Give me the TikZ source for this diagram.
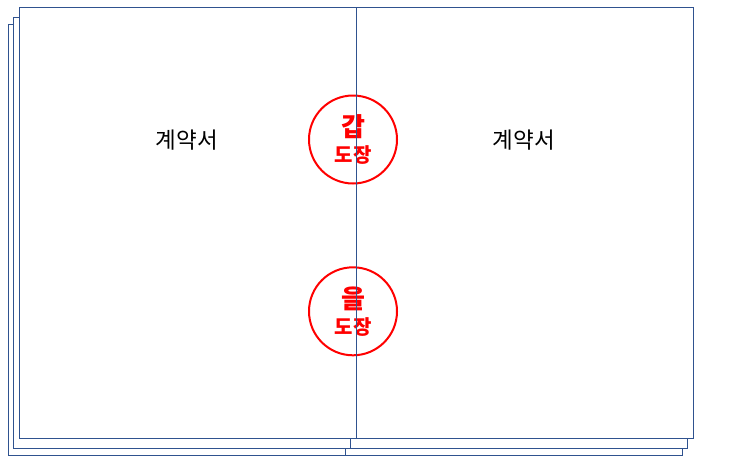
\documentclass[tikz,border=0pt]{standalone}
\usepackage{fontspec}
\usepackage{xcolor}
\usepackage{tikz}
\usetikzlibrary{positioning}
\newfontfamily\kr{Noto Sans CJK KR}
\definecolor{pageblue}{HTML}{2F528F}
\definecolor{sealred}{HTML}{FF0000}

\newcommand{\sealName}[1]{{\fontsize{26}{26}\selectfont #1}}

\tikzset{
  page/.style={draw=pageblue, line width=1pt, fill=white},
  fold/.style={draw=pageblue, line width=1pt},
  doctitle/.style={font=\kr\fontsize{22.5}{26}\selectfont, text=black},
  seal/.style={circle, draw=sealred, line width=2pt, minimum size=88pt, inner sep=0pt,
    align=center, text=sealred, font=\kr\bfseries\fontsize{20}{26}\selectfont}
}

\begin{document}
\begin{tikzpicture}[x=1pt,y=-1pt]
  % Define the dimensions of one page
  \def\pageWidth{674}
  \def\pageHeight{431}

  \useasboundingbox (0,0) rectangle (753,464);

  % the pages lying underneath
  \foreach \px/\py in {8.3/24.3, 13.3/17} {
    \draw[page] (\px,\py) rectangle ++(\pageWidth,\pageHeight);
    \draw[fold] (\px+\pageWidth/2,\py) -- ++(0,\pageHeight);
  }

  % the front page
  \draw[page] (19.3,7.3) rectangle ++(\pageWidth,\pageHeight);

  \node[doctitle] (titleLeft) at (187,140) {계약서};
  \node[doctitle] (titleRight) at (524,140) {계약서};

  % seals on the fold
  \node[seal] (sealGap) at (353,139.5) {\sealName{갑}\\도장};
  \node[seal] (sealEul) at (353,311.3) {\sealName{을}\\도장};

  % fold line of the front page
  \draw[fold] (19.3+\pageWidth/2,7.3) -- ++(0,\pageHeight);

\end{tikzpicture}
\end{document}
